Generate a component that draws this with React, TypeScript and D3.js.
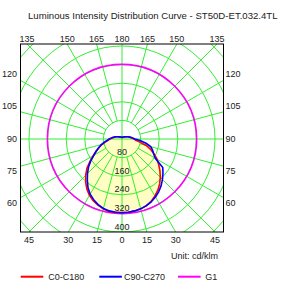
import React from "react";
import * as d3 from "d3";

const title = "Luminous Intensity Distribution Curve - ST50D-ET.032.4TL";
const gammas = [0, 5, 10, 15, 20, 25, 30, 35, 40, 45, 50, 55, 60, 65, 70, 75, 80, 85, 90, 100, 110, 120, 135, 150, 165, 180];
const c0 = [316, 316, 314, 311, 306, 296, 283, 269, 252, 233, 213, 193, 174, 153, 131, 108, 78, 60, 52, 38, 28, 20, 13, 10, 8, 7];
const c180 = [317, 317, 317, 311, 303, 293, 280, 263, 243, 221, 197, 168, 142, 122, 104, 88, 72, 60, 52, 38, 28, 20, 13, 10, 8, 7];
const c90 = [317, 316, 314, 311, 305, 298, 288, 276, 262, 246, 230, 214, 165, 150, 140, 128, 105, 78, 56, 40, 28, 20, 13, 10, 8, 7];
const c270 = [317, 316, 314, 309, 300, 288, 274, 255, 232, 210, 188, 164, 140, 122, 106, 92, 77, 63, 56, 40, 28, 20, 13, 10, 8, 7];
const g1Value = 321;
const ringValues = [80, 160, 240, 320, 400, 480, 560];
const ringLabels = [80, 160, 240, 320, 400];
const topLabels = [135, 150, 165, 180, 165, 150, 135];
const bottomLabels = [45, 30, 15, 0, 15, 30, 45];
const sideLabels = [120, 105, 90, 75, 60];
const spokeAngles = d3.range(0, 360, 15);
const legendNames = ["C0-C180", "C90-C270", "G1"];
const legendColors = ["#ff0000", "#0000ff", "#ff00ff"];
const unitText = "Unit: cd/klm";

const W = 284, H = 281;
const cx = 122, cy = 139;
const frame = { left: 20.5, right: 223.5, top: 44, bottom: 232 };
const green = "#33ee33";
const FONT = "Liberation Sans, Arial, sans-serif";

export default function App() {
  const r = d3.scaleLinear().domain([0, 400]).range([0, 93]);
  const sideY = d3.scaleLinear().domain([90, 120]).range([cy - 0.5, cy - 65.2]);

  const buildPts = (right: number[], left: number[]): [number, number][] => {
    const pts: [number, number][] = [];
    gammas.forEach((g, i) => pts.push([Math.PI - (g * Math.PI) / 180, right[i]]));
    for (let i = gammas.length - 2; i >= 0; i--) pts.push([Math.PI + (gammas[i] * Math.PI) / 180, left[i]]);
    return pts;
  };
  const radial = d3
    .lineRadial<[number, number]>()
    .angle((d) => d[0])
    .radius((d) => r(d[1]))
    .curve(d3.curveLinearClosed);
  const redPath = radial(buildPts(c0, c180)) || "";
  const bluePath = radial(buildPts(c90, c270)) || "";

  const r0 = r(80);
  const spokes = spokeAngles.map((a) => {
    const rad = (a * Math.PI) / 180;
    const start = a % 90 === 0 ? 0 : r0;
    return {
      x1: cx + start * Math.sin(rad),
      y1: cy - start * Math.cos(rad),
      x2: cx + 300 * Math.sin(rad),
      y2: cy - 300 * Math.cos(rad),
    };
  });

  const edgeX = (g: number, i: number, edgeY: number) => {
    const side = i < 3 ? -1 : i > 3 ? 1 : 0;
    const rad = (g * Math.PI) / 180;
    const t = (edgeY - cy) / Math.cos(rad);
    return cx + side * Math.sin(rad) * t;
  };

  const legendX = [20.7, 99.3, 178];
  const legendTextX = [48.3, 124, 205.3];

  return (
    <svg width={W} height={H} style={{ position: "fixed", left: 0, top: 0, background: "#fff" }} fontFamily={FONT}>
      <defs>
        <clipPath id="frameClip">
          <rect x={frame.left} y={frame.top} width={frame.right - frame.left} height={frame.bottom - frame.top} />
        </clipPath>
      </defs>
      <text x={28} y={18.7} fontSize={9.6} fill="#222">{title}</text>
      <g clipPath="url(#frameClip)">
        <g transform={`translate(${cx},${cy})`}>
          <path d={redPath} fill="#ffffc4" stroke="none" />
          <path d={bluePath} fill="#ffffc4" stroke="none" />
        </g>
        {ringValues.map((v) => (
          <circle key={v} cx={cx} cy={cy} r={r(v)} fill="none" stroke={green} strokeWidth={1} />
        ))}
        {spokes.map((s, i) => (
          <line key={i} x1={s.x1} y1={s.y1} x2={s.x2} y2={s.y2} stroke={green} strokeWidth={1} />
        ))}
        <circle cx={cx} cy={cy} r={r(g1Value)} fill="none" stroke="#ff00ff" strokeWidth={1.6} />
        <g transform={`translate(${cx},${cy})`}>
          <path d={redPath} fill="none" stroke="#ff0000" strokeWidth={1.6} strokeLinejoin="round" />
          <path d={bluePath} fill="none" stroke="#0000ff" strokeWidth={1.6} strokeLinejoin="round" />
        </g>
        {ringLabels.map((v) => (
          <text key={v} x={cx} y={cy + r(v) - 2.5} fontSize={9} textAnchor="middle" fill="#222">{v}</text>
        ))}
      </g>
      <rect x={frame.left} y={frame.top} width={frame.right - frame.left} height={frame.bottom - frame.top} fill="none" stroke="#000" strokeWidth={1} />
      {topLabels.map((g, i) => (
        <text key={i} x={edgeX(g, i, frame.top)} y={38.7} dy="0.35em" fontSize={9} textAnchor="middle" fill="#222">{g}</text>
      ))}
      {bottomLabels.map((g, i) => (
        <text key={i} x={edgeX(g, i, frame.bottom)} y={239.5} dy="0.35em" fontSize={9} textAnchor="middle" fill="#222">{g}</text>
      ))}
      {sideLabels.map((v) => (
        <text key={"l" + v} x={17} y={sideY(v)} dy="0.35em" fontSize={9} textAnchor="end" fill="#222">{v}</text>
      ))}
      {sideLabels.map((v) => (
        <text key={"r" + v} x={225.5} y={sideY(v)} dy="0.35em" fontSize={9} textAnchor="start" fill="#222">{v}</text>
      ))}
      <text x={218} y={256} dy="0.35em" fontSize={9} textAnchor="end" fill="#222">{unitText}</text>
      {legendNames.map((n, i) => (
        <g key={n}>
          <line x1={legendX[i]} x2={legendX[i] + 22.6} y1={276.7} y2={276.7} stroke={legendColors[i]} strokeWidth={2} />
          <text x={legendTextX[i]} y={276.7} dy="0.35em" fontSize={9} fill="#222">{n}</text>
        </g>
      ))}
    </svg>
  );
}
